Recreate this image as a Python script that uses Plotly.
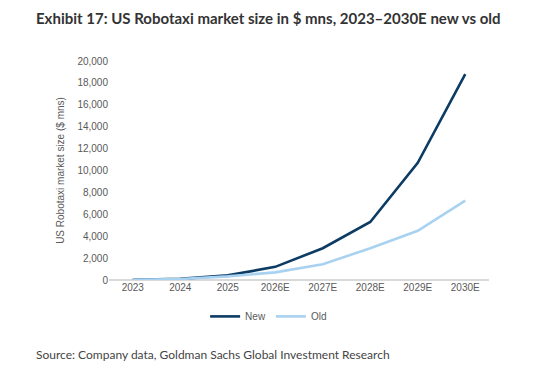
import plotly.graph_objects as go

years = ["2023", "2024", "2025", "2026E", "2027E", "2028E", "2029E", "2030E"]
new_vals = [20, 100, 420, 1200, 2900, 5300, 10700, 18800]
old_vals = [20, 90, 330, 700, 1440, 2900, 4500, 7250]
y_ticks = [0, 2000, 4000, 6000, 8000, 10000, 12000, 14000, 16000, 18000, 20000]

fig = go.Figure()
fig.add_trace(go.Scatter(x=years, y=new_vals, name="New", mode="lines",
                         line=dict(color="#0c3b64", width=2.6)))
fig.add_trace(go.Scatter(x=years, y=old_vals, name="Old", mode="lines",
                         line=dict(color="#a9d2f1", width=2.6)))

fig.update_layout(
    width=544, height=376,
    margin=dict(l=101, r=63, t=53, b=104),
    paper_bgcolor="white", plot_bgcolor="white",
    font=dict(family="Liberation Sans, Arial", size=10, color="#595959"),
    showlegend=True,
    legend=dict(orientation="h", x=0.42, xanchor="center", y=-0.10, yanchor="top",
                font=dict(size=10, color="#595959"), itemwidth=30),
    xaxis=dict(type="category", range=[-0.5, 7.5], showgrid=False, showline=False,
               ticks="", tickfont=dict(size=10, color="#595959"), zeroline=False),
    yaxis=dict(range=[0, 20000], tickvals=y_ticks, tickformat=",", showgrid=False,
               zeroline=True, zerolinecolor="#d9d9d9", zerolinewidth=2,
               showline=False, ticks="", ticklen=0,
               tickfont=dict(size=10, color="#595959"),
               title=dict(text="US Robotaxi market size ($ mns)", standoff=10,
                          font=dict(size=10, color="#595959"))),
)

fig.add_annotation(text="<b>Exhibit 17: US Robotaxi market size in $ mns, 2023–2030E new vs old</b>",
                   xref="paper", yref="paper", x=-0.197, y=1.196, xanchor="left", yanchor="middle",
                   showarrow=False,
                   font=dict(family="Lato, Open Sans", size=15, color="#333333"))
fig.add_annotation(text="Source: Company data, Goldman Sachs Global Investment Research",
                   xref="paper", yref="paper", x=-0.197, y=-0.338, xanchor="left", yanchor="middle",
                   showarrow=False,
                   font=dict(family="Lato, Open Sans", size=12, color="#444444"))

fig.write_html("out.html")
